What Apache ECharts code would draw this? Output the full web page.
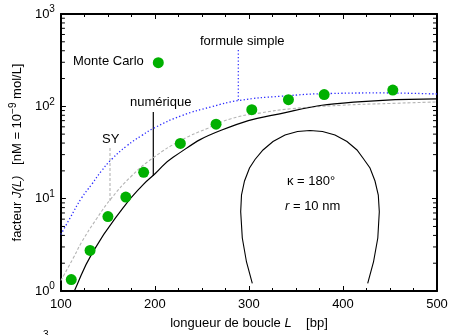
<!DOCTYPE html>
<html><head><meta charset="utf-8">
<script src="https://cdn.jsdelivr.net/npm/echarts@6/dist/echarts.min.js"></script>
<style>html,body{margin:0;padding:0;background:#fff}#c{width:452px;height:335px}</style>
</head><body><div id="c"></div>
<script>
// Monte Carlo points
const L_mc = [111, 131, 150, 169, 188, 227, 265, 303, 342, 380, 453];
const J_mc = [1.33, 2.75, 6.4, 10.4, 19.3, 39.7, 64, 92, 118, 134, 150];
// numérique (black solid)
const L_num = [110, 114.3, 133.9, 166.3, 187.5, 199.8, 219.3, 270.4, 341, 411.4, 500];
const J_num = [0.77, 1.0, 2.64, 8.0, 14.2, 18.5, 28.1, 55, 86.7, 111, 120.5];
// SY (gray dashed)
const L_sy = [100, 113.4, 122.2, 138.1, 154, 175.1, 198.1, 228, 256.3, 281, 312.7, 344.4, 397.4, 450.3, 500];
const J_sy = [1.3, 2.3, 3.4, 6.1, 10.2, 17.6, 27.7, 43, 58, 73.5, 85, 94, 102.5, 107.5, 111.5];
// formule simple (blue dotted)
const L_fs = [100, 110, 122, 133, 143, 154, 170, 186, 200, 228, 260, 290, 334, 387, 440, 500];
const J_fs = [4.1, 6.25, 10.2, 14.4, 19.9, 26.7, 37.3, 48.3, 58.9, 79, 98.8, 116, 128.6, 137.8, 139.6, 136];
// ticks
const xTicks = [100, 200, 300, 400, 500];
const yMajorTicks = [1, 10, 100, 1000];
const yMinorTicks = [2,3,4,5,6,7,8,9,20,30,40,50,60,70,80,90,200,300,400,500,600,700,800,900];

const FONT = "'Liberation Sans', Arial, Helvetica, sans-serif";
const GREEN = '#00b000';
const zip = (a, b) => a.map((v, i) => [v, b[i]]);

const chart = echarts.init(document.getElementById('c'), null, {renderer: 'canvas'});

const xCommon = {
  type: 'value', min: xTicks[0], max: xTicks[xTicks.length - 1], interval: 100,
  axisLine: {onZero: false, lineStyle: {color: '#000', width: 2}},
  axisTick: {inside: true, length: 5, lineStyle: {color: '#000', width: 1}},
  minorTick: {show: true, splitNumber: 4, length: 3, lineStyle: {color: '#000', width: 1}},
  splitLine: {show: false}, minorSplitLine: {show: false}
};
const yCommon = {
  type: 'log', logBase: 10, min: yMajorTicks[0], max: yMajorTicks[yMajorTicks.length - 1],
  axisLine: {onZero: false, lineStyle: {color: '#000', width: 2}},
  axisTick: {inside: true, length: 5, lineStyle: {color: '#000', width: 1}},
  splitLine: {show: false}
};

const option = {
  animation: false,
  grid: {left: 59, top: 14, right: 15, bottom: 41, containLabel: false},
  xAxis: [
    Object.assign({}, xCommon, {
      position: 'bottom',
      axisLabel: {fontSize: 13, color: '#000', fontFamily: FONT, margin: 7},
      name: 'longueur de boucle {i|L}    [bp]',
      nameLocation: 'middle', nameGap: 26,
      nameTextStyle: {fontSize: 13, color: '#000', fontFamily: FONT,
        rich: {i: {fontSize: 13, fontStyle: 'italic', color: '#000', fontFamily: FONT}}}
    }),
    Object.assign({}, xCommon, {position: 'top', axisLabel: {show: false}})
  ],
  yAxis: [
    Object.assign({}, yCommon, {
      position: 'left',
      axisLabel: {
        margin: 6, color: '#000', fontFamily: FONT,
        formatter: v => '{b|10}{s|' + Math.round(Math.log10(v)) + '}',
        rich: {
          b: {fontSize: 13, lineHeight: 19, fontFamily: FONT, color: '#000'},
          s: {fontSize: 10, lineHeight: 10, verticalAlign: 'top', fontFamily: FONT, color: '#000'}
        }
      },
      name: 'facteur {i|J(L)}   [nM = 10{s|\u22129} mol/L]',
      nameLocation: 'middle', nameGap: 33, nameRotate: 90,
      nameTextStyle: {fontSize: 13, color: '#000', fontFamily: FONT,
        rich: {
          i: {fontSize: 13, fontStyle: 'italic', fontFamily: FONT, color: '#000', lineHeight: 19},
          s: {fontSize: 10, lineHeight: 10, verticalAlign: 'top', fontFamily: FONT, color: '#000'}
        }}
    }),
    Object.assign({}, yCommon, {position: 'right', axisLabel: {show: false}})
  ],
  series: [
    {type: 'line', name: 'formule simple', data: zip(L_fs, J_fs), smooth: 0.5,
     showSymbol: false, symbol: 'none', lineStyle: {color: '#2a2aff', width: 1.3, type: [1.3, 2.2]}, z: 3},
    {type: 'line', name: 'SY', data: zip(L_sy, J_sy), smooth: 0.5,
     showSymbol: false, symbol: 'none', lineStyle: {color: '#b4b4b4', width: 1.1, type: [3, 2]}, z: 2},
    {type: 'line', name: 'numérique', data: zip(L_num, J_num), smooth: 0.5,
     showSymbol: false, symbol: 'none', lineStyle: {color: '#000', width: 1.2}, z: 4},
    {type: 'scatter', name: 'Monte Carlo', data: zip(L_mc, J_mc), symbol: 'circle', symbolSize: 11,
     itemStyle: {color: GREEN, opacity: 1}, z: 6},
    {type: 'custom', name: 'minorTicks', silent: true, clip: false, z: 10,
     data: yMinorTicks.map(v => [xTicks[0], v]),
     renderItem: (params, api) => {
       const v = api.value(1);
       const l = api.coord([xTicks[0], v]);
       const r = api.coord([xTicks[xTicks.length - 1], v]);
       return {type: 'group', children: [
         {type: 'line', shape: {x1: l[0], y1: l[1], x2: l[0] + 4, y2: l[1]}, style: {stroke: '#000', lineWidth: 1}},
         {type: 'line', shape: {x1: r[0] - 4, y1: r[1], x2: r[0], y2: r[1]}, style: {stroke: '#000', lineWidth: 1}}
       ]};
     }}
  ],
  graphic: [
    {type: 'text', left: 73, top: 55, style: {text: 'Monte Carlo', font: '13px ' + FONT, fill: '#000'}},
    {type: 'circle', shape: {cx: 158.3, cy: 62.7, r: 5.5}, style: {fill: GREEN}},
    {type: 'text', left: 200, top: 35, style: {text: 'formule simple', font: '13px ' + FONT, fill: '#000'}},
    {type: 'line', shape: {x1: 238.3, y1: 50, x2: 238.3, y2: 101}, style: {stroke: '#2a2aff', lineWidth: 1.2, lineDash: [1.3, 2.2]}},
    {type: 'text', left: 130, top: 96, style: {text: 'numérique', font: '13px ' + FONT, fill: '#000'}},
    {type: 'line', shape: {x1: 153.3, y1: 112, x2: 153.3, y2: 176}, style: {stroke: '#000', lineWidth: 1.2}},
    {type: 'text', left: 102, top: 133, style: {text: 'SY', font: '13px ' + FONT, fill: '#000'}},
    {type: 'line', shape: {x1: 110, y1: 148, x2: 110, y2: 201}, style: {stroke: '#b4b4b4', lineWidth: 1.1, lineDash: [3, 2]}},
    {type: 'polyline', smooth: 0.35, shape: {points: [
      [252.3,283.3],[246.5,262],[242.3,238],[240.7,211.7],[241.5,195],[244.5,181],[249.5,168],[255,159.5],
      [263,150],[273,141.5],[285,135],[297.5,131.5],[310,130.5],[322.5,131.5],[335,135],[347,141.5],
      [357,150],[364,159.5],[370,168],[375,181],[378.3,195],[379.3,211.7],[377.8,238],[373.5,262],[367.7,283.3]
    ]}, style: {stroke: '#000', lineWidth: 1.1, fill: null}},
    {type: 'text', left: 287, top: 175, style: {text: '\u03ba = 180\u00b0', font: '13px ' + FONT, fill: '#000'}},
    {type: 'text', left: 285, top: 200, style: {
      rich: {i: {fontStyle: 'italic', fontSize: 13, fontFamily: FONT, fill: '#000'}, n: {fontSize: 13, fontFamily: FONT, fill: '#000'}},
      text: '{i|r}{n| = 10 nm}'}},
    {type: 'text', left: 43, top: 330, style: {text: '3', font: '10px ' + FONT, fill: '#000'}}
  ]
};
chart.setOption(option);
</script>
</body></html>
